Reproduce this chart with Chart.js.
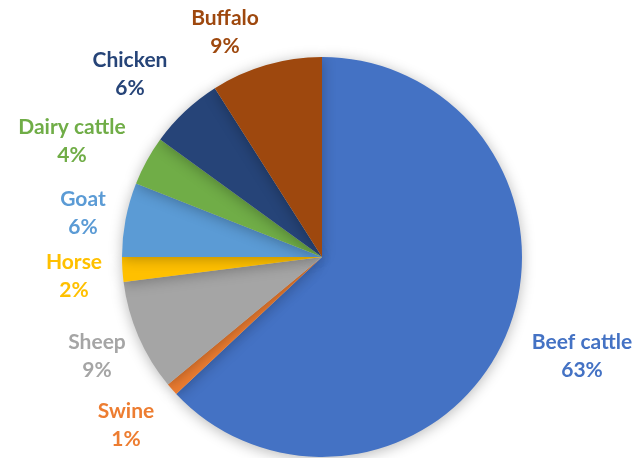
<!DOCTYPE html>
<html>
<head>
<meta charset="utf-8">
<script src="https://cdn.jsdelivr.net/npm/chart.js@4"></script>
<style>
  html, body { margin: 0; padding: 0; background: #fff; }
  #wrap { width: 632px; height: 458px; }
</style>
</head>
<body>
<div id="wrap"><canvas id="myChart"></canvas></div>
<script>
const labelsArr = ['Beef cattle', 'Swine', 'Sheep', 'Horse', 'Goat', 'Dairy cattle', 'Chicken', 'Buffalo'];
const dataArr = [63, 1, 9, 2, 6, 4, 6, 9];
const colorArr = ['#4472C4', '#ED7D31', '#A5A5A5', '#FFC000', '#5B9BD5', '#70AD47', '#264478', '#9E480E'];

// label centres (x, y of first line), Excel-style best fit placement
const labelSpots = [
    [582, 342], [126, 411], [97, 342], [74, 262],
    [83, 199], [72, 127], [130, 60], [225, 18]
];

const shadowPlugin = {
    id: 'shadow',
    beforeDatasetDraw(chart) {
        const c = chart.ctx;
        c.save();
        c.shadowColor = 'rgba(0,0,0,0.28)';
        c.shadowBlur = 14;
        c.shadowOffsetX = 0;
        c.shadowOffsetY = 2;
    },
    afterDatasetDraw(chart) {
        chart.ctx.restore();
    }
};

const labelPlugin = {
    id: 'sliceLabels',
    afterDraw(chart) {
        const c = chart.ctx;
        const ds = chart.data.datasets[0];
        const total = ds.data.reduce((a, b) => a + b, 0);
        c.save();
        c.textAlign = 'center';
        c.textBaseline = 'middle';
        c.font = 'bold 21px Lato, "Open Sans", sans-serif';
        for (let i = 0; i < ds.data.length; i++) {
            const p = labelSpots[i];
            c.fillStyle = colorArr[i];
            c.fillText(chart.data.labels[i], p[0], p[1]);
            c.fillText(Math.round(ds.data[i] / total * 100) + '%', p[0], p[1] + 28);
        }
        c.restore();
    }
};

new Chart(document.getElementById('myChart'), {
    type: 'pie',
    data: {
        labels: labelsArr,
        datasets: [{
            data: dataArr,
            backgroundColor: colorArr,
            borderWidth: 0
        }]
    },
    options: {
        responsive: true,
        maintainAspectRatio: false,
        animation: false,
        layout: { padding: { left: 122, right: 110, top: 57, bottom: 1 } },
        plugins: {
            legend: { display: false },
            tooltip: { enabled: false }
        }
    },
    plugins: [shadowPlugin, labelPlugin]
});
</script>
</body>
</html>
